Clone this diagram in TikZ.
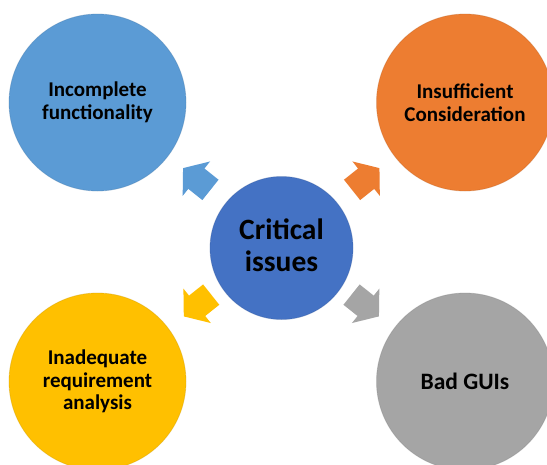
\documentclass[tikz,border=0pt]{standalone}
\usepackage{fontspec}
\setmainfont{Carlito}
\definecolor{cblue}{HTML}{5B9BD5}
\definecolor{corange}{HTML}{ED7D31}
\definecolor{cgray}{HTML}{A5A5A5}
\definecolor{cyellow}{HTML}{FFC000}
\definecolor{ccenter}{HTML}{4472C4}
\tikzset{
  outer/.style={circle, minimum size=177pt, inner sep=0pt, fill=#1, draw=#1!80!black, draw opacity=0.35, line width=0.8pt,
    align=center, text=black, font=\fontsize{21}{22.5}\selectfont\bfseries},
  hub/.style={circle, minimum size=143pt, inner sep=0pt, fill=ccenter, draw=ccenter!80!black, draw opacity=0.35, line width=0.8pt},
  hubtext/.style={align=center, text=black, inner sep=0pt, font=\fontsize{29.5}{31.7}\selectfont\bfseries}
}
\newcommand{\radarrow}[3]{%
  \begin{scope}[shift={#1}, rotate=#2]
    \fill[#3] (-17.5pt,-13pt) -- (0.5pt,-13pt) -- (0.5pt,-22pt) -- (17.5pt,0pt) -- (0.5pt,22pt) -- (0.5pt,13pt) -- (-17.5pt,13pt) -- cycle;
  \end{scope}}
\begin{document}
\begin{tikzpicture}[x=1pt,y=-1pt]
\useasboundingbox (0,0) rectangle (547,464);
\clip (0,0) rectangle (547,464);
\fill[white] (0,0) rectangle (547,464);
\node[outer=cblue] (tl) at (97.5,102.5) {Incomplete\\functionality};
\node[outer=corange] (tr) at (465,102.5) {Insufficient\\Consideration};
\node[outer=cyellow] (bl) at (97.5,381.5) {Inadequate\\requirement\\analysis};
\node[outer=cgray, font=\fontsize{23.5}{25}\selectfont\bfseries] (br) at (465,381.5) {Bad GUIs};
\node[hub] (c) at (281.5,248) {};
\node[hubtext] (ct) at (281.5,245) {Critical\\issues};
\radarrow{(196.75,179)}{141.5}{cblue}
\radarrow{(365.75,179)}{38.5}{corange}
\radarrow{(197.5,305.5)}{218.5}{cyellow}
\radarrow{(365.25,305.5)}{-38.5}{cgray}
\end{tikzpicture}
\end{document}
